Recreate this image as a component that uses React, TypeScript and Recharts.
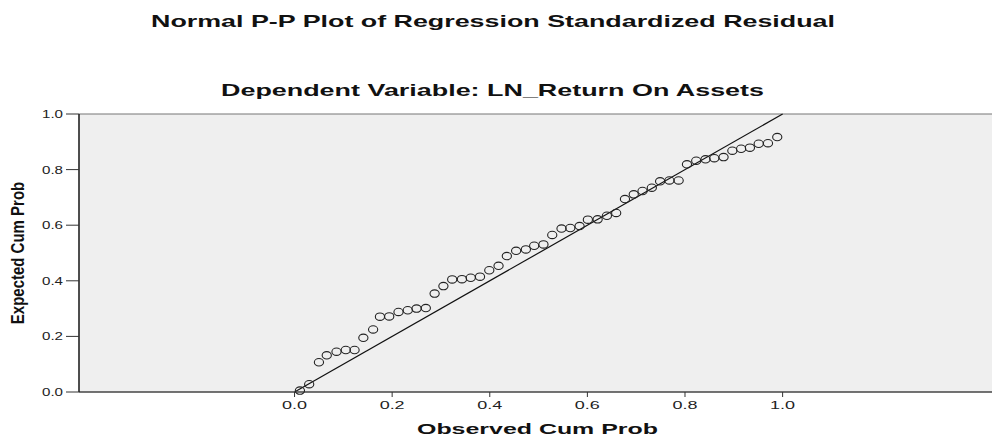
import { ScatterChart, Scatter, XAxis, YAxis, CartesianGrid, ReferenceLine, Label } from "recharts";

const observedCumProb = [
  0.011, 0.03, 0.05, 0.066, 0.086, 0.105, 0.123, 0.141, 0.161, 0.175,
  0.194, 0.213, 0.232, 0.25, 0.269, 0.287, 0.305, 0.323, 0.343, 0.361,
  0.38, 0.399, 0.418, 0.435, 0.454, 0.474, 0.491, 0.51, 0.528, 0.547,
  0.565, 0.584, 0.601, 0.621, 0.64, 0.659, 0.677, 0.695, 0.713, 0.732,
  0.749, 0.768, 0.787, 0.804, 0.823, 0.842, 0.86, 0.879, 0.897, 0.915,
  0.933, 0.951, 0.97, 0.989,
];

const expectedCumProb = [
  0.005, 0.028, 0.107, 0.132, 0.145, 0.151, 0.151, 0.195, 0.225, 0.271,
  0.272, 0.288, 0.294, 0.3, 0.302, 0.354, 0.381, 0.405, 0.406, 0.411,
  0.415, 0.438, 0.454, 0.489, 0.508, 0.513, 0.526, 0.531, 0.565, 0.588,
  0.59, 0.597, 0.62, 0.621, 0.634, 0.644, 0.694, 0.711, 0.723, 0.735,
  0.758, 0.761, 0.761, 0.819, 0.832, 0.837, 0.841, 0.845, 0.868, 0.875,
  0.879, 0.893, 0.895, 0.917,
];

const axisTicks = [0, 0.2, 0.4, 0.6, 0.8, 1.0];

const points = observedCumProb.map((x, i) => ({ x, y: expectedCumProb[i] }));

const FONT = '"Liberation Sans", Arial, sans-serif';

function XTick(props: any) {
  const { x, y, payload } = props;
  return (
    <text x={x} y={y + 10} textAnchor="middle" fontFamily={FONT} fontSize={11.5} fill="#222"
      textLength={25} lengthAdjust="spacingAndGlyphs">
      {payload.value.toFixed(1)}
    </text>
  );
}

function YTick(props: any) {
  const { x, y, payload } = props;
  return (
    <text x={x - 1} y={y + 4} textAnchor="end" fontFamily={FONT} fontSize={11.5} fill="#222"
      textLength={21} lengthAdjust="spacingAndGlyphs">
      {payload.value.toFixed(1)}
    </text>
  );
}

function Circle(props: any) {
  const { cx, cy } = props;
  return <ellipse cx={cx} cy={cy} rx={4.6} ry={3.7} fill="none" stroke="#222" strokeWidth={1.1} />;
}

export default function App() {
  return (
    <div style={{ position: "absolute", left: 0, top: 0, width: 993, height: 437, background: "#fff" }}>
      <svg width={993} height={110} style={{ position: "absolute", left: 0, top: 0 }}>
        <text x={151} y={27} fontFamily={FONT} fontWeight="bold" fontSize={17} fill="#111"
          textLength={684} lengthAdjust="spacingAndGlyphs">
          Normal P-P Plot of Regression Standardized Residual
        </text>
        <text x={221} y={96} fontFamily={FONT} fontWeight="bold" fontSize={17} fill="#111"
          textLength={543} lengthAdjust="spacingAndGlyphs">
          Dependent Variable: LN_Return On Assets
        </text>
      </svg>
      <ScatterChart width={993} height={437} margin={{ top: 114, right: 1, bottom: 0, left: 0 }}
        style={{ position: "absolute", left: 0, top: 0 }}>
        <CartesianGrid fill="#efefef" horizontal={false} vertical={false} />
        <XAxis type="number" dataKey="x" domain={[-0.4416, 1.429]} ticks={axisTicks} allowDataOverflow
          height={45} tickSize={5} tickLine={{ stroke: "#333" }} axisLine={{ stroke: "#444", strokeWidth: 1.3 }}
          tick={<XTick />} interval={0}>
          <Label
            content={() => (
              <text x={537.5} y={434} textAnchor="middle" fontFamily={FONT} fontWeight="bold" fontSize={15}
                fill="#111" textLength={241} lengthAdjust="spacingAndGlyphs">
                Observed Cum Prob
              </text>
            )}
          />
        </XAxis>
        <YAxis type="number" dataKey="y" domain={[0, 1]} ticks={axisTicks} width={79} tickSize={13}
          tickLine={{ stroke: "#333" }} axisLine={{ stroke: "#222", strokeWidth: 1.6 }} tick={<YTick />} interval={0}>
          <Label
            content={() => (
              <text transform="translate(24, 253) rotate(-90) scale(1, 1.2)" textAnchor="middle"
                fontFamily={FONT} fontWeight="bold" fontSize={15} fill="#111">
                Expected Cum Prob
              </text>
            )}
          />
        </YAxis>
        <ReferenceLine y={1} stroke="#777" strokeWidth={1.2} />
        <ReferenceLine segment={[{ x: 0, y: 0 }, { x: 1, y: 1 }]} stroke="#111" strokeWidth={1.2} />
        <Scatter data={points} shape={<Circle />} isAnimationActive={false} />
      </ScatterChart>
    </div>
  );
}
